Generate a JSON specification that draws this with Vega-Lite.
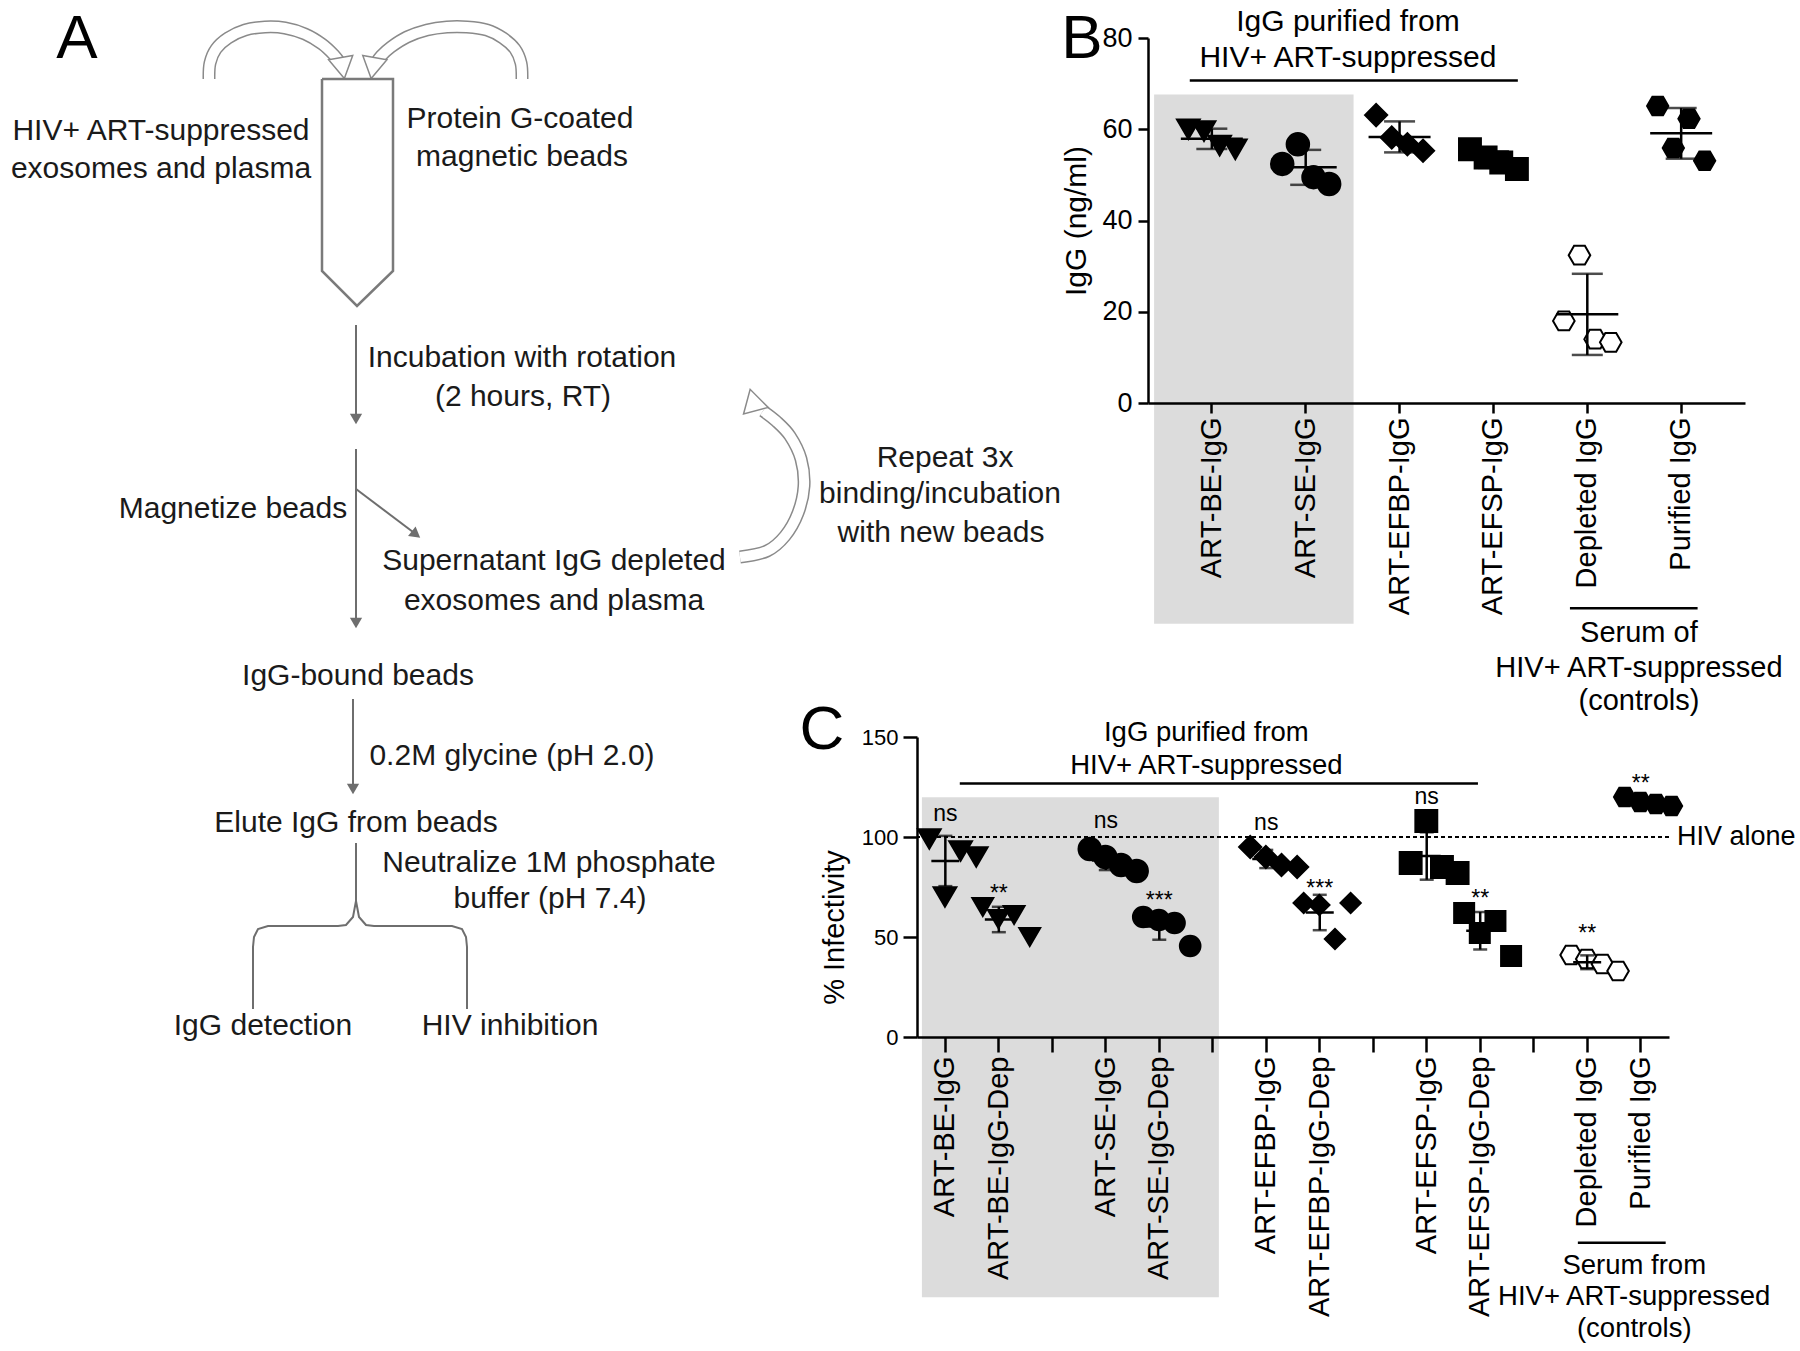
{
  "$schema": "https://vega.github.io/schema/vega-lite/v6.json",
  "padding": 0,
  "background": "white",
  "bounds": "flush",
  "spacing": 0,
  "config": {
    "view": {"stroke": null},
    "font": "Liberation Sans",
    "axis": {"grid": false, "domainColor": "#000", "tickColor": "#000", "labelColor": "#000", "titleColor": "#000", "labelFont": "Liberation Sans", "titleFont": "Liberation Sans", "titleFontWeight": "normal"},
    "text": {"font": "Liberation Sans", "color": "#111"}
  },
  "datasets": {
    "arcs": [
      {"id": "L", "o": 1, "x": 209, "y": 78}, {"id": "L", "o": 2, "x": 210, "y": 62}, {"id": "L", "o": 3, "x": 216, "y": 48}, {"id": "L", "o": 4, "x": 228, "y": 37}, {"id": "L", "o": 5, "x": 245, "y": 29}, {"id": "L", "o": 6, "x": 265, "y": 26}, {"id": "L", "o": 7, "x": 285, "y": 27}, {"id": "L", "o": 8, "x": 305, "y": 33}, {"id": "L", "o": 9, "x": 322, "y": 43}, {"id": "L", "o": 10, "x": 334, "y": 54}, {"id": "L", "o": 11, "x": 340, "y": 62},
      {"id": "R", "o": 1, "x": 522, "y": 78}, {"id": "R", "o": 2, "x": 521, "y": 62}, {"id": "R", "o": 3, "x": 515, "y": 48}, {"id": "R", "o": 4, "x": 503, "y": 37}, {"id": "R", "o": 5, "x": 487, "y": 29}, {"id": "R", "o": 6, "x": 467, "y": 26}, {"id": "R", "o": 7, "x": 447, "y": 26}, {"id": "R", "o": 8, "x": 427, "y": 29}, {"id": "R", "o": 9, "x": 407, "y": 36}, {"id": "R", "o": 10, "x": 391, "y": 46}, {"id": "R", "o": 11, "x": 381, "y": 55}, {"id": "R", "o": 12, "x": 376, "y": 62},
      {"id": "P", "o": 1, "x": 740, "y": 556}, {"id": "P", "o": 2, "x": 767, "y": 550}, {"id": "P", "o": 3, "x": 785, "y": 535}, {"id": "P", "o": 4, "x": 798, "y": 512}, {"id": "P", "o": 5, "x": 804, "y": 485}, {"id": "P", "o": 6, "x": 801, "y": 458}, {"id": "P", "o": 7, "x": 790, "y": 435}, {"id": "P", "o": 8, "x": 776, "y": 420}, {"id": "P", "o": 9, "x": 763, "y": 410}
    ],
    "archeads": [
      {"id": "L", "x": 342.5, "y": 67}, {"id": "R", "x": 373, "y": 67}, {"id": "P", "x": 753, "y": 399}
    ],
    "tube": [
      {"o": 1, "x": 322, "y": 78}, {"o": 2, "x": 393, "y": 78}, {"o": 3, "x": 393, "y": 270}, {"o": 4, "x": 357, "y": 305}, {"o": 5, "x": 322, "y": 270}, {"o": 6, "x": 322, "y": 78}
    ],
    "flow": [
      {"id": "f1", "o": 1, "x": 356, "y": 324}, {"id": "f1", "o": 2, "x": 356, "y": 414},
      {"id": "f2", "o": 1, "x": 356, "y": 448}, {"id": "f2", "o": 2, "x": 356, "y": 618},
      {"id": "f3", "o": 1, "x": 356, "y": 488}, {"id": "f3", "o": 2, "x": 413, "y": 531},
      {"id": "f4", "o": 1, "x": 353, "y": 698}, {"id": "f4", "o": 2, "x": 353, "y": 784},
      {"id": "b1", "o": 1, "x": 356, "y": 842}, {"id": "b1", "o": 2, "x": 356, "y": 900}, {"id": "b1", "o": 3, "x": 353, "y": 916}, {"id": "b1", "o": 4, "x": 346, "y": 924}, {"id": "b1", "o": 5, "x": 338, "y": 925}, {"id": "b1", "o": 6, "x": 268, "y": 925}, {"id": "b1", "o": 7, "x": 258, "y": 928}, {"id": "b1", "o": 8, "x": 254, "y": 936}, {"id": "b1", "o": 9, "x": 253, "y": 946}, {"id": "b1", "o": 10, "x": 253, "y": 1008},
      {"id": "b2", "o": 1, "x": 356, "y": 900}, {"id": "b2", "o": 2, "x": 359, "y": 916}, {"id": "b2", "o": 3, "x": 366, "y": 924}, {"id": "b2", "o": 4, "x": 374, "y": 925}, {"id": "b2", "o": 5, "x": 452, "y": 925}, {"id": "b2", "o": 6, "x": 462, "y": 928}, {"id": "b2", "o": 7, "x": 466, "y": 936}, {"id": "b2", "o": 8, "x": 467, "y": 946}, {"id": "b2", "o": 9, "x": 467, "y": 1008}
    ],
    "flowheads": [
      {"id": "f1", "x": 356, "y": 418}, {"id": "f2", "x": 356, "y": 622}, {"id": "f4", "x": 353, "y": 788}, {"id": "f3", "x": 416, "y": 533.5}
    ],
    "atext": [
      {"t": "HIV+ ART-suppressed", "x": 161, "y": 130},
      {"t": "exosomes and plasma", "x": 161, "y": 168},
      {"t": "Protein G-coated", "x": 520, "y": 118},
      {"t": "magnetic beads", "x": 522, "y": 156},
      {"t": "Incubation with rotation", "x": 522, "y": 357},
      {"t": "(2 hours, RT)", "x": 523, "y": 396},
      {"t": "Magnetize beads", "x": 233, "y": 508},
      {"t": "Supernatant IgG depleted", "x": 554, "y": 560},
      {"t": "exosomes and plasma", "x": 554, "y": 600},
      {"t": "Repeat 3x", "x": 945, "y": 457},
      {"t": "binding/incubation", "x": 940, "y": 493},
      {"t": "with new beads", "x": 941, "y": 532},
      {"t": "IgG-bound beads", "x": 358, "y": 675},
      {"t": "0.2M glycine (pH 2.0)", "x": 512, "y": 755},
      {"t": "Elute IgG from beads", "x": 356, "y": 822},
      {"t": "Neutralize 1M phosphate", "x": 549, "y": 862},
      {"t": "buffer (pH 7.4)", "x": 550, "y": 898},
      {"t": "IgG detection", "x": 263, "y": 1025},
      {"t": "HIV inhibition", "x": 510, "y": 1025}
    ],
    "letters": [
      {"t": "A", "x": 77, "y": 38}, {"t": "B", "x": 1082, "y": 38}, {"t": "C", "x": 822, "y": 729}
    ],
    "igg": [
      {"cat": "ART-BE-IgG", "rep": 1, "v": 60.0}, {"cat": "ART-BE-IgG", "rep": 2, "v": 59.6}, {"cat": "ART-BE-IgG", "rep": 3, "v": 56.4}, {"cat": "ART-BE-IgG", "rep": 4, "v": 55.6},
      {"cat": "ART-SE-IgG", "rep": 1, "v": 52.4}, {"cat": "ART-SE-IgG", "rep": 2, "v": 56.7}, {"cat": "ART-SE-IgG", "rep": 3, "v": 49.5}, {"cat": "ART-SE-IgG", "rep": 4, "v": 48.0},
      {"cat": "ART-EFBP-IgG", "rep": 1, "v": 63.1}, {"cat": "ART-EFBP-IgG", "rep": 2, "v": 58.2}, {"cat": "ART-EFBP-IgG", "rep": 3, "v": 56.7}, {"cat": "ART-EFBP-IgG", "rep": 4, "v": 55.3},
      {"cat": "ART-EFSP-IgG", "rep": 1, "v": 55.6}, {"cat": "ART-EFSP-IgG", "rep": 2, "v": 53.8}, {"cat": "ART-EFSP-IgG", "rep": 3, "v": 52.7}, {"cat": "ART-EFSP-IgG", "rep": 4, "v": 51.3},
      {"cat": "Depleted IgG", "rep": 1, "v": 18.0}, {"cat": "Depleted IgG", "rep": 2, "v": 32.4}, {"cat": "Depleted IgG", "rep": 3, "v": 14.0}, {"cat": "Depleted IgG", "rep": 4, "v": 13.3},
      {"cat": "Purified IgG", "rep": 1, "v": 65.1}, {"cat": "Purified IgG", "rep": 2, "v": 55.9}, {"cat": "Purified IgG", "rep": 3, "v": 62.3}, {"cat": "Purified IgG", "rep": 4, "v": 53.1}
    ],
    "inf": [
      {"cat": "ART-BE-IgG", "rep": 1, "v": 99}, {"cat": "ART-BE-IgG", "rep": 2, "v": 70}, {"cat": "ART-BE-IgG", "rep": 3, "v": 93}, {"cat": "ART-BE-IgG", "rep": 4, "v": 90},
      {"cat": "ART-BE-IgG-Dep", "rep": 1, "v": 65}, {"cat": "ART-BE-IgG-Dep", "rep": 2, "v": 59}, {"cat": "ART-BE-IgG-Dep", "rep": 3, "v": 61}, {"cat": "ART-BE-IgG-Dep", "rep": 4, "v": 50},
      {"cat": "ART-SE-IgG", "rep": 1, "v": 94}, {"cat": "ART-SE-IgG", "rep": 2, "v": 90}, {"cat": "ART-SE-IgG", "rep": 3, "v": 86}, {"cat": "ART-SE-IgG", "rep": 4, "v": 83},
      {"cat": "ART-SE-IgG-Dep", "rep": 1, "v": 60}, {"cat": "ART-SE-IgG-Dep", "rep": 2, "v": 58.5}, {"cat": "ART-SE-IgG-Dep", "rep": 3, "v": 57}, {"cat": "ART-SE-IgG-Dep", "rep": 4, "v": 45.5},
      {"cat": "ART-EFBP-IgG", "rep": 1, "v": 95}, {"cat": "ART-EFBP-IgG", "rep": 2, "v": 90}, {"cat": "ART-EFBP-IgG", "rep": 3, "v": 86}, {"cat": "ART-EFBP-IgG", "rep": 4, "v": 85},
      {"cat": "ART-EFBP-IgG-Dep", "rep": 1, "v": 67}, {"cat": "ART-EFBP-IgG-Dep", "rep": 2, "v": 66}, {"cat": "ART-EFBP-IgG-Dep", "rep": 3, "v": 49}, {"cat": "ART-EFBP-IgG-Dep", "rep": 4, "v": 67},
      {"cat": "ART-EFSP-IgG", "rep": 1, "v": 87}, {"cat": "ART-EFSP-IgG", "rep": 2, "v": 108}, {"cat": "ART-EFSP-IgG", "rep": 3, "v": 85}, {"cat": "ART-EFSP-IgG", "rep": 4, "v": 82},
      {"cat": "ART-EFSP-IgG-Dep", "rep": 1, "v": 62}, {"cat": "ART-EFSP-IgG-Dep", "rep": 2, "v": 52}, {"cat": "ART-EFSP-IgG-Dep", "rep": 3, "v": 58}, {"cat": "ART-EFSP-IgG-Dep", "rep": 4, "v": 40.5},
      {"cat": "Depleted IgG", "rep": 1, "v": 41}, {"cat": "Depleted IgG", "rep": 2, "v": 39}, {"cat": "Depleted IgG", "rep": 3, "v": 36.5}, {"cat": "Depleted IgG", "rep": 4, "v": 33},
      {"cat": "Purified IgG", "rep": 1, "v": 120}, {"cat": "Purified IgG", "rep": 2, "v": 117.5}, {"cat": "Purified IgG", "rep": 3, "v": 116.5}, {"cat": "Purified IgG", "rep": 4, "v": 115.5}
    ],
    "sig": [
      {"cat": "ART-BE-IgG", "y": 107.9, "label": "ns"}, {"cat": "ART-SE-IgG", "y": 104.5, "label": "ns"}, {"cat": "ART-EFBP-IgG", "y": 103.7, "label": "ns"}, {"cat": "ART-EFSP-IgG", "y": 116.4, "label": "ns"},
      {"cat": "ART-BE-IgG-Dep", "y": 67.8, "label": "**"}, {"cat": "ART-SE-IgG-Dep", "y": 64.5, "label": "***"}, {"cat": "ART-EFBP-IgG-Dep", "y": 70.6, "label": "***"}, {"cat": "ART-EFSP-IgG-Dep", "y": 65.6, "label": "**"},
      {"cat": "Depleted IgG", "y": 47.9, "label": "**"}, {"cat": "Purified IgG", "y": 122.9, "label": "**"}
    ]
  },
  "hconcat": [
    {
      "width": 917,
      "height": 1351,
      "layer": [
        {
          "data": {"name": "arcs"},
          "mark": {"type": "line", "stroke": "#8a8a8a", "strokeWidth": 13, "interpolate": "cardinal", "strokeCap": "butt", "clip": false},
          "encoding": {
            "x": {"field": "x", "type": "quantitative", "scale": {"domain": [0, 917], "nice": false, "zero": false}, "axis": null},
            "y": {"field": "y", "type": "quantitative", "scale": {"domain": [0, 1351], "nice": false, "zero": false, "reverse": true}, "axis": null},
            "detail": {"field": "id"},
            "order": {"field": "o", "type": "quantitative"}
          }
        },
        {
          "data": {"name": "arcs"},
          "mark": {"type": "line", "stroke": "white", "strokeWidth": 10, "interpolate": "cardinal", "strokeCap": "butt", "clip": false},
          "encoding": {
            "x": {"field": "x", "type": "quantitative", "scale": {"domain": [0, 917], "nice": false, "zero": false}, "axis": null},
            "y": {"field": "y", "type": "quantitative", "scale": {"domain": [0, 1351], "nice": false, "zero": false, "reverse": true}, "axis": null},
            "detail": {"field": "id"},
            "order": {"field": "o", "type": "quantitative"}
          }
        },
        {
          "data": {"name": "archeads"},
          "transform": [{"filter": "datum.id == 'L'"}],
          "mark": {"type": "point", "shape": "triangle-down", "size": 600, "angle": -10, "filled": true, "fill": "white", "stroke": "#8a8a8a", "strokeWidth": 1.5, "opacity": 1, "clip": false},
          "encoding": {
            "x": {"field": "x", "type": "quantitative", "scale": {"domain": [0, 917], "nice": false, "zero": false}, "axis": null},
            "y": {"field": "y", "type": "quantitative", "scale": {"domain": [0, 1351], "nice": false, "zero": false, "reverse": true}, "axis": null}
          }
        },
        {
          "data": {"name": "archeads"},
          "transform": [{"filter": "datum.id == 'R'"}],
          "mark": {"type": "point", "shape": "triangle-down", "size": 600, "angle": 10, "filled": true, "fill": "white", "stroke": "#8a8a8a", "strokeWidth": 1.5, "opacity": 1, "clip": false},
          "encoding": {
            "x": {"field": "x", "type": "quantitative", "scale": {"domain": [0, 917], "nice": false, "zero": false}, "axis": null},
            "y": {"field": "y", "type": "quantitative", "scale": {"domain": [0, 1351], "nice": false, "zero": false, "reverse": true}, "axis": null}
          }
        },
        {
          "data": {"name": "archeads"},
          "transform": [{"filter": "datum.id == 'P'"}],
          "mark": {"type": "point", "shape": "triangle-up", "size": 650, "angle": -15, "filled": true, "fill": "white", "stroke": "#8a8a8a", "strokeWidth": 1.5, "opacity": 1, "clip": false},
          "encoding": {
            "x": {"field": "x", "type": "quantitative", "scale": {"domain": [0, 917], "nice": false, "zero": false}, "axis": null},
            "y": {"field": "y", "type": "quantitative", "scale": {"domain": [0, 1351], "nice": false, "zero": false, "reverse": true}, "axis": null}
          }
        },
        {
          "data": {"name": "tube"},
          "mark": {"type": "line", "stroke": "#7a7a7a", "strokeWidth": 2.5, "clip": false},
          "encoding": {
            "x": {"field": "x", "type": "quantitative", "scale": {"domain": [0, 917], "nice": false, "zero": false}, "axis": null},
            "y": {"field": "y", "type": "quantitative", "scale": {"domain": [0, 1351], "nice": false, "zero": false, "reverse": true}, "axis": null},
            "order": {"field": "o", "type": "quantitative"}
          }
        },
        {
          "data": {"name": "flow"},
          "mark": {"type": "line", "stroke": "#6e6e6e", "strokeWidth": 2, "clip": false},
          "encoding": {
            "x": {"field": "x", "type": "quantitative", "scale": {"domain": [0, 917], "nice": false, "zero": false}, "axis": null},
            "y": {"field": "y", "type": "quantitative", "scale": {"domain": [0, 1351], "nice": false, "zero": false, "reverse": true}, "axis": null},
            "detail": {"field": "id"},
            "order": {"field": "o", "type": "quantitative"}
          }
        },
        {
          "data": {"name": "flowheads"},
          "transform": [{"filter": "datum.id != 'f3'"}],
          "mark": {"type": "point", "shape": "triangle-down", "size": 150, "filled": true, "color": "#6e6e6e", "opacity": 1, "clip": false},
          "encoding": {
            "x": {"field": "x", "type": "quantitative", "scale": {"domain": [0, 917], "nice": false, "zero": false}, "axis": null},
            "y": {"field": "y", "type": "quantitative", "scale": {"domain": [0, 1351], "nice": false, "zero": false, "reverse": true}, "axis": null}
          }
        },
        {
          "data": {"name": "flowheads"},
          "transform": [{"filter": "datum.id == 'f3'"}],
          "mark": {"type": "point", "shape": "triangle-down", "size": 150, "angle": -52, "filled": true, "color": "#6e6e6e", "opacity": 1, "clip": false},
          "encoding": {
            "x": {"field": "x", "type": "quantitative", "scale": {"domain": [0, 917], "nice": false, "zero": false}, "axis": null},
            "y": {"field": "y", "type": "quantitative", "scale": {"domain": [0, 1351], "nice": false, "zero": false, "reverse": true}, "axis": null}
          }
        },
        {
          "data": {"name": "atext"},
          "mark": {"type": "text", "fontSize": 30, "align": "center", "baseline": "middle", "color": "#1a1a1a", "clip": false},
          "encoding": {
            "x": {"field": "x", "type": "quantitative", "scale": {"domain": [0, 917], "nice": false, "zero": false}, "axis": null},
            "y": {"field": "y", "type": "quantitative", "scale": {"domain": [0, 1351], "nice": false, "zero": false, "reverse": true}, "axis": null},
            "text": {"field": "t"}
          }
        },
        {
          "data": {"name": "letters"},
          "mark": {"type": "text", "fontSize": 62, "align": "center", "baseline": "middle", "color": "#000", "clip": false},
          "encoding": {
            "x": {"field": "x", "type": "quantitative", "scale": {"domain": [0, 917], "nice": false, "zero": false}, "axis": null},
            "y": {"field": "y", "type": "quantitative", "scale": {"domain": [0, 1351], "nice": false, "zero": false, "reverse": true}, "axis": null},
            "text": {"field": "t"}
          }
        }
      ]
    },
    {
      "bounds": "flush",
      "spacing": 0,
      "vconcat": [
        {"width": 50, "height": 37, "data": {"values": [{}]}, "mark": {"type": "text"}, "encoding": {"text": {"value": ""}}},
        {
          "bounds": "flush",
          "spacing": 699,
          "vconcat": [
            {
              "bounds": "flush",
              "spacing": 0,
              "hconcat": [
                {"width": 231, "height": 365, "data": {"values": [{}]}, "mark": {"type": "text"}, "encoding": {"text": {"value": ""}}},
                {
                  "width": 597,
                  "height": 365,
                  "layer": [
                    {
                      "data": {"values": [{"a": "ART-BE-IgG", "b": "ART-EFBP-IgG", "top": 67.6, "bot": -48.4}]},
                      "mark": {"type": "rect", "color": "#dcdcdc", "clip": false},
                      "encoding": {
                        "x": {"field": "a", "type": "nominal", "title": "", "bandPosition": -0.73, "scale": {"type": "band", "domain": ["ART-BE-IgG", "ART-SE-IgG", "ART-EFBP-IgG", "ART-EFSP-IgG", "Depleted IgG", "Purified IgG"], "paddingInner": 0.5, "paddingOuter": 0.43}},
                        "x2": {"field": "b", "bandPosition": -0.48},
                        "y": {"field": "top", "type": "quantitative", "title": "IgG (ng/ml)", "scale": {"domain": [0, 80], "nice": false, "zero": true}},
                        "y2": {"field": "bot"}
                      }
                    },
                    {
                      "data": {"values": [{"a": "ART-BE-IgG", "b": "ART-EFSP-IgG", "y": 70.7}]},
                      "mark": {"type": "rule", "strokeWidth": 2.5, "color": "#000", "clip": false},
                      "encoding": {
                        "x": {"field": "a", "type": "nominal", "title": "", "bandPosition": 0.03, "scale": {"type": "band", "domain": ["ART-BE-IgG", "ART-SE-IgG", "ART-EFBP-IgG", "ART-EFSP-IgG", "Depleted IgG", "Purified IgG"], "paddingInner": 0.5, "paddingOuter": 0.43}},
                        "x2": {"field": "b", "bandPosition": 1.02},
                        "y": {"field": "y", "type": "quantitative", "title": "IgG (ng/ml)", "scale": {"domain": [0, 80], "nice": false, "zero": true}}
                      }
                    },
                    {
                      "data": {"values": [{"a": "Depleted IgG", "b": "Purified IgG", "y": -45}]},
                      "mark": {"type": "rule", "strokeWidth": 2.5, "color": "#000", "clip": false},
                      "encoding": {
                        "x": {"field": "a", "type": "nominal", "title": "", "bandPosition": 0.13, "scale": {"type": "band", "domain": ["ART-BE-IgG", "ART-SE-IgG", "ART-EFBP-IgG", "ART-EFSP-IgG", "Depleted IgG", "Purified IgG"], "paddingInner": 0.5, "paddingOuter": 0.43}},
                        "x2": {"field": "b", "bandPosition": 0.85},
                        "y": {"field": "y", "type": "quantitative", "title": "IgG (ng/ml)", "scale": {"domain": [0, 80], "nice": false, "zero": true}}
                      }
                    },
                    {
                      "data": {"values": [{"c": "ART-EFBP-IgG", "y": 83.4, "t": "IgG purified from"}, {"c": "ART-EFBP-IgG", "y": 75.7, "t": "HIV+ ART-suppressed"}]},
                      "mark": {"type": "text", "fontSize": 30, "align": "center", "baseline": "middle", "color": "#000", "clip": false},
                      "encoding": {
                        "x": {"field": "c", "type": "nominal", "title": "", "bandPosition": -0.6, "scale": {"type": "band", "domain": ["ART-BE-IgG", "ART-SE-IgG", "ART-EFBP-IgG", "ART-EFSP-IgG", "Depleted IgG", "Purified IgG"], "paddingInner": 0.5, "paddingOuter": 0.43}},
                        "y": {"field": "y", "type": "quantitative", "title": "IgG (ng/ml)", "scale": {"domain": [0, 80], "nice": false, "zero": true}},
                        "text": {"field": "t"}
                      }
                    },
                    {
                      "data": {"values": [{"c": "Purified IgG", "y": -50.4, "t": "Serum of"}, {"c": "Purified IgG", "y": -58.0, "t": "HIV+ ART-suppressed"}, {"c": "Purified IgG", "y": -65.3, "t": "(controls)"}]},
                      "mark": {"type": "text", "fontSize": 29, "align": "center", "baseline": "middle", "color": "#000", "clip": false},
                      "encoding": {
                        "x": {"field": "c", "type": "nominal", "title": "", "bandPosition": -0.4, "scale": {"type": "band", "domain": ["ART-BE-IgG", "ART-SE-IgG", "ART-EFBP-IgG", "ART-EFSP-IgG", "Depleted IgG", "Purified IgG"], "paddingInner": 0.5, "paddingOuter": 0.43}},
                        "y": {"field": "y", "type": "quantitative", "title": "IgG (ng/ml)", "scale": {"domain": [0, 80], "nice": false, "zero": true}},
                        "text": {"field": "t"}
                      }
                    },
                    {
                      "data": {"name": "igg"},
                      "mark": {"type": "point", "filled": true, "stroke": "#000", "strokeWidth": 2, "opacity": 1, "clip": false},
                      "encoding": {
                        "x": {"field": "cat", "type": "nominal", "title": "", "scale": {"type": "band", "domain": ["ART-BE-IgG", "ART-SE-IgG", "ART-EFBP-IgG", "ART-EFSP-IgG", "Depleted IgG", "Purified IgG"], "paddingInner": 0.5, "paddingOuter": 0.43},
                          "axis": {"title": "", "labelAngle": -90, "labelAlign": "right", "labelBaseline": "middle", "labelFontSize": 29, "labelPadding": 4, "labelLimit": 500, "labelOverlap": false, "tickSize": 10, "tickWidth": 2.5, "domainWidth": 2.5, "zindex": 1}},
                        "xOffset": {"field": "rep", "type": "nominal", "scale": {"paddingInner": 0, "paddingOuter": 0}},
                        "y": {"field": "v", "type": "quantitative", "title": "IgG (ng/ml)", "scale": {"domain": [0, 80], "nice": false, "zero": true},
                          "axis": {"title": "IgG (ng/ml)", "values": [0, 20, 40, 60, 80], "labelFontSize": 27, "titleFontSize": 30, "tickSize": 10, "tickWidth": 2.5, "domainWidth": 2.5, "labelPadding": 6, "titlePadding": 10, "zindex": 1}},
                        "shape": {"field": "cat", "type": "nominal", "scale": {"domain": ["ART-BE-IgG", "ART-SE-IgG", "ART-EFBP-IgG", "ART-EFSP-IgG", "Depleted IgG", "Purified IgG"], "range": ["triangle-down", "circle", "diamond", "square", "M-1,0L-0.5,-0.866L0.5,-0.866L1,0L0.5,0.866L-0.5,0.866Z", "M-1,0L-0.5,-0.866L0.5,-0.866L1,0L0.5,0.866L-0.5,0.866Z"]}, "legend": null},
                        "fill": {"field": "cat", "type": "nominal", "scale": {"domain": ["ART-BE-IgG", "ART-SE-IgG", "ART-EFBP-IgG", "ART-EFSP-IgG", "Depleted IgG", "Purified IgG"], "range": ["#000", "#000", "#000", "#000", "#fff", "#000"]}, "legend": null},
                        "size": {"field": "cat", "type": "nominal", "scale": {"domain": ["ART-BE-IgG", "ART-SE-IgG", "ART-EFBP-IgG", "ART-EFSP-IgG", "Depleted IgG", "Purified IgG"], "range": [520, 400, 520, 400, 460, 620]}, "legend": null}
                      }
                    },
                    {
                      "data": {"name": "igg"},
                      "mark": {"type": "errorbar", "extent": "stdev", "color": "#000", "thickness": 2.5, "ticks": {"size": 31, "thickness": 2.5, "color": "#000"}},
                      "encoding": {
                        "x": {"field": "cat", "type": "nominal", "title": "", "scale": {"type": "band", "domain": ["ART-BE-IgG", "ART-SE-IgG", "ART-EFBP-IgG", "ART-EFSP-IgG", "Depleted IgG", "Purified IgG"], "paddingInner": 0.5, "paddingOuter": 0.43}},
                        "y": {"field": "v", "type": "quantitative", "title": "IgG (ng/ml)", "scale": {"domain": [0, 80], "nice": false, "zero": true}}
                      }
                    },
                    {
                      "data": {"name": "igg"},
                      "mark": {"type": "tick", "orient": "horizontal", "size": 62, "thickness": 2.5, "color": "#000"},
                      "encoding": {
                        "x": {"field": "cat", "type": "nominal", "title": "", "scale": {"type": "band", "domain": ["ART-BE-IgG", "ART-SE-IgG", "ART-EFBP-IgG", "ART-EFSP-IgG", "Depleted IgG", "Purified IgG"], "paddingInner": 0.5, "paddingOuter": 0.43}},
                        "y": {"aggregate": "mean", "field": "v", "type": "quantitative", "title": "IgG (ng/ml)", "scale": {"domain": [0, 80], "nice": false, "zero": true}}
                      }
                    }
                  ]
                }
              ]
            },
            {
              "width": 752,
              "height": 300,
              "layer": [
                {
                  "data": {"values": [{"a": "ART-BE-IgG", "b": "gap2", "top": 119.9, "bot": -130.1}]},
                  "mark": {"type": "rect", "color": "#dcdcdc", "clip": false},
                  "encoding": {
                    "x": {"field": "a", "type": "nominal", "title": "", "bandPosition": -0.23, "scale": {"type": "band", "domain": ["ART-BE-IgG", "ART-BE-IgG-Dep", "gap1", "ART-SE-IgG", "ART-SE-IgG-Dep", "gap2", "ART-EFBP-IgG", "ART-EFBP-IgG-Dep", "gap3", "ART-EFSP-IgG", "ART-EFSP-IgG-Dep", "gap4", "Depleted IgG", "Purified IgG"], "paddingInner": 0.4, "paddingOuter": 0.23}},
                    "x2": {"field": "b", "bandPosition": 0.69},
                    "y": {"field": "top", "type": "quantitative", "title": "% Infectivity", "scale": {"domain": [0, 150], "nice": false, "zero": true}},
                    "y2": {"field": "bot"}
                  }
                },
                {
                  "data": {"values": [{"a": "ART-BE-IgG", "b": "ART-EFSP-IgG-Dep", "y": 126.7}]},
                  "mark": {"type": "rule", "strokeWidth": 2.5, "color": "#000", "clip": false},
                  "encoding": {
                    "x": {"field": "a", "type": "nominal", "title": "", "bandPosition": 0.95, "scale": {"type": "band", "domain": ["ART-BE-IgG", "ART-BE-IgG-Dep", "gap1", "ART-SE-IgG", "ART-SE-IgG-Dep", "gap2", "ART-EFBP-IgG", "ART-EFBP-IgG-Dep", "gap3", "ART-EFSP-IgG", "ART-EFSP-IgG-Dep", "gap4", "Depleted IgG", "Purified IgG"], "paddingInner": 0.4, "paddingOuter": 0.23}},
                    "x2": {"field": "b", "bandPosition": 0.43},
                    "y": {"field": "y", "type": "quantitative", "title": "% Infectivity", "scale": {"domain": [0, 150], "nice": false, "zero": true}}
                  }
                },
                {
                  "data": {"values": [{"a": "Depleted IgG", "b": "Purified IgG", "y": -102.9}]},
                  "mark": {"type": "rule", "strokeWidth": 2.5, "color": "#000", "clip": false},
                  "encoding": {
                    "x": {"field": "a", "type": "nominal", "title": "", "bandPosition": 0.21, "scale": {"type": "band", "domain": ["ART-BE-IgG", "ART-BE-IgG-Dep", "gap1", "ART-SE-IgG", "ART-SE-IgG-Dep", "gap2", "ART-EFBP-IgG", "ART-EFBP-IgG-Dep", "gap3", "ART-EFSP-IgG", "ART-EFSP-IgG-Dep", "gap4", "Depleted IgG", "Purified IgG"], "paddingInner": 0.4, "paddingOuter": 0.23}},
                    "x2": {"field": "b", "bandPosition": 1.28},
                    "y": {"field": "y", "type": "quantitative", "title": "% Infectivity", "scale": {"domain": [0, 150], "nice": false, "zero": true}}
                  }
                },
                {
                  "data": {"values": [{"level": 100}]},
                  "mark": {"type": "rule", "strokeDash": [4, 3], "strokeWidth": 2.2, "color": "#000"},
                  "encoding": {
                    "y": {"field": "level", "type": "quantitative", "title": "% Infectivity", "scale": {"domain": [0, 150], "nice": false, "zero": true}}
                  }
                },
                {
                  "data": {"values": [{"c": "gap2", "y": 152.2, "t": "IgG purified from"}, {"c": "gap2", "y": 135.7, "t": "HIV+ ART-suppressed"}, {"c": "Purified IgG", "y": -114.3, "t": "Serum from"}, {"c": "Purified IgG", "y": -130.1, "t": "HIV+ ART-suppressed"}, {"c": "Purified IgG", "y": -145.8, "t": "(controls)"}]},
                  "mark": {"type": "text", "fontSize": 27.5, "align": "center", "baseline": "middle", "color": "#000", "clip": false},
                  "encoding": {
                    "x": {"field": "c", "type": "nominal", "title": "", "bandPosition": 0.3, "scale": {"type": "band", "domain": ["ART-BE-IgG", "ART-BE-IgG-Dep", "gap1", "ART-SE-IgG", "ART-SE-IgG-Dep", "gap2", "ART-EFBP-IgG", "ART-EFBP-IgG-Dep", "gap3", "ART-EFSP-IgG", "ART-EFSP-IgG-Dep", "gap4", "Depleted IgG", "Purified IgG"], "paddingInner": 0.4, "paddingOuter": 0.23}},
                    "y": {"field": "y", "type": "quantitative", "title": "% Infectivity", "scale": {"domain": [0, 150], "nice": false, "zero": true}},
                    "text": {"field": "t"}
                  }
                },
                {
                  "data": {"values": [{"c": "Purified IgG", "y": 100, "t": "HIV alone"}]},
                  "mark": {"type": "text", "fontSize": 27, "align": "left", "baseline": "middle", "color": "#000", "clip": false},
                  "encoding": {
                    "x": {"field": "c", "type": "nominal", "title": "", "bandPosition": 1.63, "scale": {"type": "band", "domain": ["ART-BE-IgG", "ART-BE-IgG-Dep", "gap1", "ART-SE-IgG", "ART-SE-IgG-Dep", "gap2", "ART-EFBP-IgG", "ART-EFBP-IgG-Dep", "gap3", "ART-EFSP-IgG", "ART-EFSP-IgG-Dep", "gap4", "Depleted IgG", "Purified IgG"], "paddingInner": 0.4, "paddingOuter": 0.23}},
                    "y": {"field": "y", "type": "quantitative", "title": "% Infectivity", "scale": {"domain": [0, 150], "nice": false, "zero": true}},
                    "text": {"field": "t"}
                  }
                },
                {
                  "data": {"name": "sig"},
                  "mark": {"type": "text", "fontSize": 23, "align": "center", "baseline": "alphabetic", "color": "#000", "clip": false},
                  "encoding": {
                    "x": {"field": "cat", "type": "nominal", "title": "", "scale": {"type": "band", "domain": ["ART-BE-IgG", "ART-BE-IgG-Dep", "gap1", "ART-SE-IgG", "ART-SE-IgG-Dep", "gap2", "ART-EFBP-IgG", "ART-EFBP-IgG-Dep", "gap3", "ART-EFSP-IgG", "ART-EFSP-IgG-Dep", "gap4", "Depleted IgG", "Purified IgG"], "paddingInner": 0.4, "paddingOuter": 0.23}},
                    "y": {"field": "y", "type": "quantitative", "title": "% Infectivity", "scale": {"domain": [0, 150], "nice": false, "zero": true}},
                    "text": {"field": "label"}
                  }
                },
                {
                  "data": {"name": "inf"},
                  "mark": {"type": "point", "filled": true, "stroke": "#000", "strokeWidth": 2, "opacity": 1, "clip": false},
                  "encoding": {
                    "x": {"field": "cat", "type": "nominal", "title": "", "scale": {"type": "band", "domain": ["ART-BE-IgG", "ART-BE-IgG-Dep", "gap1", "ART-SE-IgG", "ART-SE-IgG-Dep", "gap2", "ART-EFBP-IgG", "ART-EFBP-IgG-Dep", "gap3", "ART-EFSP-IgG", "ART-EFSP-IgG-Dep", "gap4", "Depleted IgG", "Purified IgG"], "paddingInner": 0.4, "paddingOuter": 0.23},
                      "axis": {"title": "", "labelExpr": "indexof(datum.label, 'gap') == 0 ? '' : datum.label", "labelAngle": -90, "labelAlign": "right", "labelBaseline": "middle", "labelFontSize": 29, "labelPadding": 4, "labelLimit": 500, "labelOverlap": false, "tickSize": 15, "tickWidth": 2.5, "domainWidth": 2.5, "zindex": 1}},
                    "xOffset": {"field": "rep", "type": "nominal", "scale": {"paddingInner": 0, "paddingOuter": 0}},
                    "y": {"field": "v", "type": "quantitative", "title": "% Infectivity", "scale": {"domain": [0, 150], "nice": false, "zero": true},
                      "axis": {"title": "% Infectivity", "values": [0, 50, 100, 150], "labelFontSize": 22, "titleFontSize": 29, "titleY": 190, "tickSize": 14, "tickWidth": 2.5, "domainWidth": 2.5, "labelPadding": 5, "titlePadding": 12, "zindex": 1}},
                    "shape": {"field": "cat", "type": "nominal", "scale": {"domain": ["ART-BE-IgG", "ART-BE-IgG-Dep", "ART-SE-IgG", "ART-SE-IgG-Dep", "ART-EFBP-IgG", "ART-EFBP-IgG-Dep", "ART-EFSP-IgG", "ART-EFSP-IgG-Dep", "Depleted IgG", "Purified IgG"], "range": ["triangle-down", "triangle-down", "circle", "circle", "diamond", "diamond", "square", "square", "M-1,0L-0.5,-0.866L0.5,-0.866L1,0L0.5,0.866L-0.5,0.866Z", "M-1,0L-0.5,-0.866L0.5,-0.866L1,0L0.5,0.866L-0.5,0.866Z"]}, "legend": null},
                    "fill": {"field": "cat", "type": "nominal", "scale": {"domain": ["ART-BE-IgG", "ART-BE-IgG-Dep", "ART-SE-IgG", "ART-SE-IgG-Dep", "ART-EFBP-IgG", "ART-EFBP-IgG-Dep", "ART-EFSP-IgG", "ART-EFSP-IgG-Dep", "Depleted IgG", "Purified IgG"], "range": ["#000", "#000", "#000", "#000", "#000", "#000", "#000", "#000", "#fff", "#000"]}, "legend": null},
                    "size": {"field": "cat", "type": "nominal", "scale": {"domain": ["ART-BE-IgG", "ART-BE-IgG-Dep", "ART-SE-IgG", "ART-SE-IgG-Dep", "ART-EFBP-IgG", "ART-EFBP-IgG-Dep", "ART-EFSP-IgG", "ART-EFSP-IgG-Dep", "Depleted IgG", "Purified IgG"], "range": [650, 650, 560, 560, 620, 620, 520, 520, 560, 560]}, "legend": null}
                  }
                },
                {
                  "data": {"name": "inf"},
                  "mark": {"type": "errorbar", "extent": "stdev", "color": "#000", "thickness": 2.5, "ticks": {"size": 14, "thickness": 2.5, "color": "#000"}},
                  "encoding": {
                    "x": {"field": "cat", "type": "nominal", "title": "", "scale": {"type": "band", "domain": ["ART-BE-IgG", "ART-BE-IgG-Dep", "gap1", "ART-SE-IgG", "ART-SE-IgG-Dep", "gap2", "ART-EFBP-IgG", "ART-EFBP-IgG-Dep", "gap3", "ART-EFSP-IgG", "ART-EFSP-IgG-Dep", "gap4", "Depleted IgG", "Purified IgG"], "paddingInner": 0.4, "paddingOuter": 0.23}},
                    "y": {"field": "v", "type": "quantitative", "title": "% Infectivity", "scale": {"domain": [0, 150], "nice": false, "zero": true}}
                  }
                },
                {
                  "data": {"name": "inf"},
                  "mark": {"type": "tick", "orient": "horizontal", "size": 28, "thickness": 2.5, "color": "#000"},
                  "encoding": {
                    "x": {"field": "cat", "type": "nominal", "title": "", "scale": {"type": "band", "domain": ["ART-BE-IgG", "ART-BE-IgG-Dep", "gap1", "ART-SE-IgG", "ART-SE-IgG-Dep", "gap2", "ART-EFBP-IgG", "ART-EFBP-IgG-Dep", "gap3", "ART-EFSP-IgG", "ART-EFSP-IgG-Dep", "gap4", "Depleted IgG", "Purified IgG"], "paddingInner": 0.4, "paddingOuter": 0.23}},
                    "y": {"aggregate": "mean", "field": "v", "type": "quantitative", "title": "% Infectivity", "scale": {"domain": [0, 150], "nice": false, "zero": true}}
                  }
                }
              ]
            }
          ]
        }
      ]
    }
  ]
}
